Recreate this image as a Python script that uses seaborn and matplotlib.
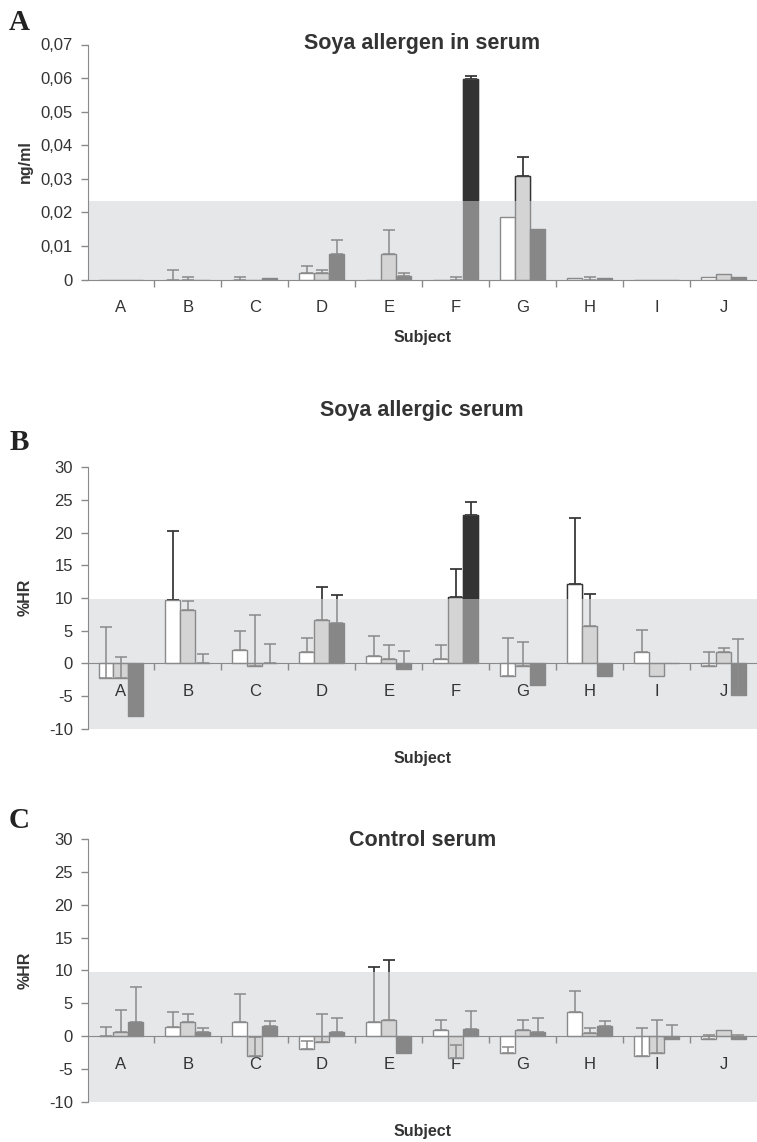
import numpy as np
import pandas as pd
import matplotlib
matplotlib.use("Agg")
import matplotlib.pyplot as plt
from matplotlib.patches import Rectangle
import seaborn as sns

subjects = ["A", "B", "C", "D", "E", "F", "G", "H", "I", "J"]
series = ["s1", "s2", "s3"]

## A - soya allergen in serum (ng/ml)
a_s1 = [0, 0, 0, 0.002, 0, 0, 0.0185, 0.0003, 0, 0.0008]
a_s1_err = [0, 0.0028, 0.0008, 0.0021, 0, 0, 0, 0, 0, 0]
a_s2 = [0, 0, 0, 0.002, 0.0077, 0, 0.0309, 0, 0, 0.0016]
a_s2_err = [0, 0.0008, 0, 0.0008, 0.0071, 0.0008, 0.0056, 0.0008, 0, 0]
a_s3 = [0, 0, 0.0003, 0.0077, 0.001, 0.0596, 0.0149, 0.0003, 0, 0.0008]
a_s3_err = [0, 0, 0, 0.0042, 0.001, 0.0011, 0, 0, 0, 0]

## B - soya allergic serum (%HR)
b_s1 = [-2.3, 9.7, 2.1, 1.8, 1.1, 0.6, -1.9, 12.1, 1.8, -0.4]
b_s1_err = [7.8, 10.6, 2.8, 2.0, 3.0, 2.2, 5.7, 10.1, 3.3, 2.2]
b_s2 = [-2.3, 8.1, -0.4, 6.6, 0.6, 10.2, -0.4, 5.7, -1.9, 1.8]
b_s2_err = [3.3, 1.4, 7.8, 5.0, 2.15, 4.2, 3.6, 4.9, 0, 0.6]
b_s3 = [-8.1, 0, 0, 6.1, -0.9, 22.7, -3.4, -1.9, 0, -4.9]
b_s3_err = [0, 1.4, 3.0, 4.3, 2.8, 2.0, 0, 0, 0, 8.6]

## C - control serum (%HR)
c_s1 = [0, 1.4, 2.2, -2.0, 2.2, 1.0, -2.5, 3.6, -3.0, -0.46]
c_s1_err = [1.4, 2.2, 4.2, 1.3, 8.4, 1.5, 0.8, 3.3, 4.2, 0.66]
c_s2 = [0.6, 2.2, -3.0, -0.9, 2.5, -3.4, 1.0, 0.5, -2.5, 1.0]
c_s2_err = [3.4, 1.2, 2.8, 4.3, 9.1, 2.0, 1.5, 0.7, 5.0, 0]
c_s3 = [2.2, 0.66, 1.5, 0.66, -2.6, 1.07, 0.66, 1.5, -0.46, -0.46]
c_s3_err = [5.3, 0.54, 0.8, 2.04, 0, 2.83, 2.04, 0.8, 2.16, 0.66]

# shaded reference ranges
a_band = (0, 0.0234)
b_band = (-10, 9.9)
c_band = (-10, 9.8)

band_col = "#e6e7e9"
grey_line = "#8a8a8a"
dark_line = "#333333"
text_col = "#333333"
faces_in = ["#ffffff", "#d4d4d4", "#878787"]
faces_out = ["#ffffff", "#d4d4d4", "#333333"]

sns.set_style("ticks")
plt.rcParams["font.family"] = ["Liberation Sans", "DejaVu Sans"]

fig = plt.figure(figsize=(7.57, 11.42), dpi=100)


def draw_panel(ax, vals, errs, band, ylim, yticks, ylabels):
    df = pd.DataFrame({
        "subject": subjects * 3,
        "series": np.repeat(series, len(subjects)),
        "value": np.concatenate(vals),
    })
    ax.axhspan(band[0], band[1], color=band_col, lw=0, zorder=0)
    sns.barplot(data=df, x="subject", y="value", hue="series", order=subjects,
                hue_order=series, palette=faces_in, saturation=1, width=0.67,
                gap=0, errorbar=None, legend=False, edgecolor=grey_line,
                linewidth=1.0, ax=ax, zorder=2)
    bars = list(ax.containers)
    for p in bars[2]:
        p.set_edgecolor(faces_in[2])

    ax.set_xlim(-0.5, 9.5)
    ax.set_ylim(*ylim)
    x0, x1 = ax.get_xlim()
    # everything above the reference band is drawn darker
    clip = Rectangle((x0, band[1]), x1 - x0, ylim[1] - band[1], transform=ax.transData)

    for k, cont in enumerate(bars):
        for p in cont:
            r = Rectangle((p.get_x(), p.get_y()), p.get_width(), p.get_height(),
                          facecolor=faces_out[k],
                          edgecolor=dark_line, lw=1.0, zorder=2.1)
            ax.add_patch(r)
            r.set_clip_path(clip)

    for k, cont in enumerate(bars):
        xs = np.array([p.get_x() + p.get_width() / 2 for p in cont])
        v = np.array(vals[k])
        e = np.array(errs[k])
        m = e > 0
        for col, clipped in [(grey_line, False), (dark_line, True)]:
            eb = ax.errorbar(xs[m], v[m], yerr=[np.zeros(m.sum()), e[m]], fmt="none",
                             ecolor=col, elinewidth=1.1, capsize=4.5, capthick=1.1, zorder=3)
            if clipped:
                for art in eb.get_children():
                    art.set_clip_path(clip)

    ax.set_xlim(x0, x1)
    ax.set_ylim(*ylim)
    ax.set_facecolor("white")
    for s in ["top", "right"]:
        ax.spines[s].set_visible(False)
    ax.spines["bottom"].set_position(("data", 0))
    ax.spines["left"].set_color(grey_line)
    ax.spines["bottom"].set_color(grey_line)
    ax.spines["left"].set_zorder(4)
    ax.spines["bottom"].set_zorder(4)

    ax.set_xticks(range(len(subjects)))
    ax.set_xticklabels(subjects)
    ax.set_xticks(np.arange(0.5, len(subjects) - 1, 1), minor=True)
    ax.tick_params(axis="x", which="major", length=0, pad=15, labelsize=12, labelcolor=text_col)
    ax.tick_params(axis="x", which="minor", length=5, width=1, color=grey_line, direction="out")
    ax.set_yticks(yticks)
    ax.set_yticklabels(ylabels)
    ax.tick_params(axis="y", length=5, width=1, color=grey_line, pad=5.5, labelsize=12, labelcolor=text_col)
    ax.set_xlabel("")
    ax.set_ylabel("")


W, H = 757, 1142
left = 87.5 / W
width = 1 - left

axA = fig.add_axes([left, 1 - 279.5 / H, width, (279.5 - 44.5) / H])
draw_panel(axA, [a_s1, a_s2, a_s3], [a_s1_err, a_s2_err, a_s3_err], a_band,
           (0, 0.07), np.arange(0, 0.071, 0.01),
           ["0"] + ["0,0%d" % i for i in range(1, 8)])

axB = fig.add_axes([left, 1 - 728.6 / H, width, (728.6 - 467.3) / H])
draw_panel(axB, [b_s1, b_s2, b_s3], [b_s1_err, b_s2_err, b_s3_err], b_band,
           (-10, 30), np.arange(-10, 31, 5), [str(t) for t in range(-10, 31, 5)])

axC = fig.add_axes([left, 1 - 1101.7 / H, width, (1101.7 - 839.3) / H])
draw_panel(axC, [c_s1, c_s2, c_s3], [c_s1_err, c_s2_err, c_s3_err], c_band,
           (-10, 30), np.arange(-10, 31, 5), [str(t) for t in range(-10, 31, 5)])

xc = (left + 1) / 2
title_kw = dict(ha="center", va="center", fontsize=15.5, fontweight="bold", color=text_col)
fig.text(xc, 1 - 44 / H, "Soya allergen in serum", **title_kw)
fig.text(xc, 1 - 410 / H, "Soya allergic serum", **title_kw)
fig.text(xc, 1 - 840 / H, "Control serum", **title_kw)

lab_kw = dict(ha="center", va="center", fontsize=11.5, fontweight="bold", color=text_col)
fig.text(xc, 1 - 338 / H, "Subject", **lab_kw)
fig.text(xc, 1 - 758 / H, "Subject", **lab_kw)
fig.text(xc, 1 - 1131.5 / H, "Subject", **lab_kw)
fig.text(25 / W, 1 - 162 / H, "ng/ml", rotation=90, **lab_kw)
fig.text(25 / W, 1 - 597 / H, "%HR", rotation=90, **lab_kw)
fig.text(25 / W, 1 - 970 / H, "%HR", rotation=90, **lab_kw)

let_kw = dict(ha="center", va="center", fontsize=21, fontweight="bold",
              family=["Liberation Serif", "DejaVu Serif"], color="#222222")
fig.text(19 / W, 1 - 23 / H, "A", **let_kw)
fig.text(19 / W, 1 - 443 / H, "B", **let_kw)
fig.text(19 / W, 1 - 821 / H, "C", **let_kw)

fig.savefig("out.png", dpi=100)
